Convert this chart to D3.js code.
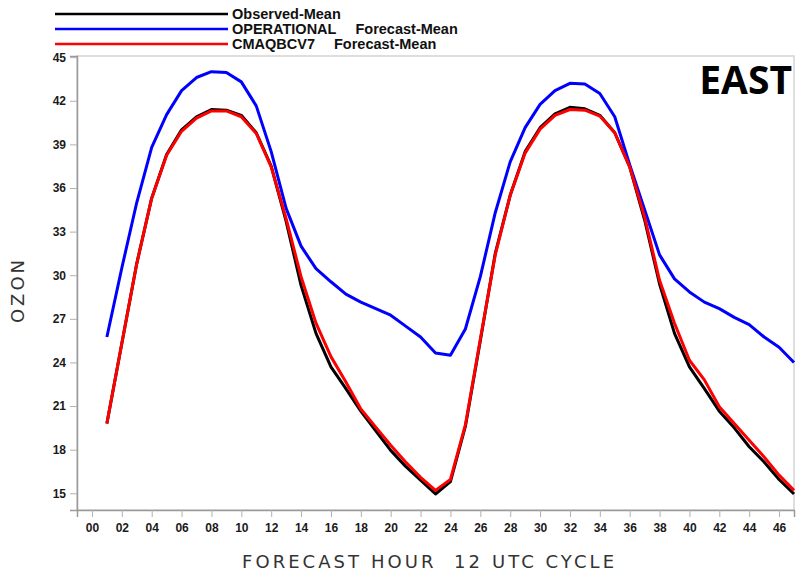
<!DOCTYPE html>
<html>
<head>
<meta charset="utf-8">
<script src="https://cdn.jsdelivr.net/npm/d3@7"></script>
<style>
  body { margin: 0; background: #fff; }
  svg { display: block; }
</style>
</head>
<body>
<svg id="svg"></svg>
<script>
// forecast hours (12 UTC cycle)
var hours = [1,2,3,4,5,6,7,8,9,10,11,12,13,14,15,16,17,18,19,20,21,22,23,24,
             25,26,27,28,29,30,31,32,33,34,35,36,37,38,39,40,41,42,43,44,45,46,47];

var observed = [19.8,25.3,30.8,35.3,38.3,40.0,40.9,41.4,41.35,41.0,39.8,37.5,33.7,29.3,26.0,23.7,
                22.2,20.65,19.3,17.95,16.85,15.9,14.95,15.8,19.6,25.5,31.5,35.5,38.5,40.15,41.1,41.55,
                41.45,41.0,39.8,37.45,33.8,29.4,26.0,23.7,22.2,20.65,19.5,18.2,17.15,15.95,14.95];

var operational = [25.75,30.5,35.0,38.8,41.05,42.7,43.6,44.0,43.95,43.3,41.65,38.5,34.6,32.0,30.45,29.55,
                   28.7,28.15,27.7,27.25,26.5,25.75,24.65,24.5,26.3,29.9,34.3,37.8,40.15,41.75,42.7,43.2,
                   43.15,42.5,40.9,37.6,34.5,31.4,29.75,28.85,28.15,27.7,27.1,26.6,25.75,25.05,24.0];

var cmaq = [19.8,25.3,30.8,35.3,38.25,39.9,40.8,41.3,41.3,40.9,39.75,37.45,33.9,29.9,26.7,24.4,
            22.65,20.8,19.55,18.3,17.15,16.1,15.2,15.95,19.7,25.6,31.4,35.5,38.4,40.05,41.0,41.4,
            41.35,40.95,39.8,37.45,34.0,29.65,26.7,24.15,22.8,20.95,19.8,18.65,17.5,16.25,15.2];

var xTicks = [0,2,4,6,8,10,12,14,16,18,20,22,24,26,28,30,32,34,36,38,40,42,44,46];
var yTicks = [15,18,21,24,27,30,33,36,39,42,45];

var seriesNames = ["Observed-Mean", "OPERATIONAL", "CMAQBCV7"];
var seriesSuffix = ["", "Forecast-Mean", "Forecast-Mean"];
var seriesColors = ["#000000", "#0000ff", "#ff0000"];
var seriesData = [observed, operational, cmaq];

var width = 808, height = 573;
var margin = {left: 77, top: 56, right: 14, bottom: 63};

var svg = d3.select("#svg")
  .attr("width", width)
  .attr("height", height)
  .style("font-family", "'Liberation Sans', Arial, sans-serif");

var x = d3.scaleLinear()
  .domain([-1, 47])
  .range([margin.left, width - margin.right]);

var y = d3.scaleLinear()
  .domain([13.85, 45.08])
  .range([height - margin.bottom, margin.top]);

// frame
svg.append("rect")
  .attr("x", margin.left)
  .attr("y", margin.top)
  .attr("width", width - margin.right - margin.left)
  .attr("height", height - margin.bottom - margin.top)
  .style("fill", "none")
  .style("stroke", "#d4d4d4")
  .style("stroke-width", 1.5);

var yAxis = d3.axisLeft(y)
  .tickValues(yTicks)
  .tickSize(7)
  .tickPadding(4)
  .tickFormat(d3.format("d"));

var yG = svg.append("g")
  .attr("transform", `translate(${margin.left},0)`)
  .call(yAxis);

var xAxis = d3.axisBottom(x)
  .tickValues(xTicks)
  .tickSize(7)
  .tickPadding(6)
  .tickFormat(d3.format("02d"));

var xG = svg.append("g")
  .attr("transform", `translate(0,${height - margin.bottom})`)
  .call(xAxis);

[xG, yG].forEach(function(g){
  g.select(".domain").style("stroke", "#9a9a9a").style("stroke-width", 1.5);
  g.selectAll(".tick line").style("stroke", "#b0b0b0");
  g.selectAll(".tick text")
    .style("font-size", "12px")
    .style("font-weight", 700)
    .style("fill", "#1a1a1a")
    .style("font-family", "'Liberation Sans', Arial, sans-serif");
});

// lines
var line = d3.line()
  .x((d,i)=>x(hours[i]))
  .y(d=>y(d));

svg.selectAll(".series")
  .data(seriesData)
  .enter()
  .append("path")
    .attr("class", "series")
    .attr("d", line)
    .style("fill", "none")
    .style("stroke", (d,i)=>seriesColors[i])
    .style("stroke-width", 3)
    .style("stroke-linejoin", "round");

// legend
var legend = svg.selectAll(".legend")
  .data(seriesNames)
  .enter()
  .append("g")
    .attr("class", "legend")
    .attr("transform", (d,i)=>`translate(0,${14 + i*15})`);

legend.append("line")
  .attr("x1", 55)
  .attr("x2", 228)
  .style("stroke", (d,i)=>seriesColors[i])
  .style("stroke-width", 2.5);

legend.append("text")
  .attr("class", "lname")
  .attr("x", 232)
  .attr("dy", "0.35em")
  .style("font-size", "14.5px")
  .style("font-weight", 700)
  .style("fill", "#111")
  .text(d=>d);

legend.each(function(d,i){
  if (!seriesSuffix[i]) return;
  var g = d3.select(this);
  var w = g.select(".lname").node().getComputedTextLength();
  g.append("text")
    .attr("x", 232 + w + 19)
    .attr("dy", "0.35em")
    .style("font-size", "14.5px")
    .style("font-weight", 700)
    .style("fill", "#111")
    .text(seriesSuffix[i]);
});

// axis titles
svg.append("text")
  .attr("x", 242)
  .attr("y", 568)
  .attr("textLength", 372)
  .attr("lengthAdjust", "spacing")
  .style("white-space", "pre")
  .style("font-family", "'DejaVu Sans', sans-serif")
  .style("font-size", "18px")
  .style("fill", "#333")
  .text("FORECAST HOUR  12 UTC CYCLE");

svg.append("text")
  .attr("transform", "translate(24,290) rotate(-90)")
  .attr("text-anchor", "middle")
  .style("font-family", "'DejaVu Sans', sans-serif")
  .style("font-size", "18px")
  .style("letter-spacing", "3px")
  .style("fill", "#333")
  .text("OZON");

// region label
svg.append("text")
  .attr("x", 792)
  .attr("y", 94)
  .attr("text-anchor", "end")
  .style("font-family", "'Open Sans', sans-serif")
  .style("font-weight", 700)
  .style("font-size", "39px")
  .style("fill", "#000")
  .text("EAST");
</script>
</body>
</html>
